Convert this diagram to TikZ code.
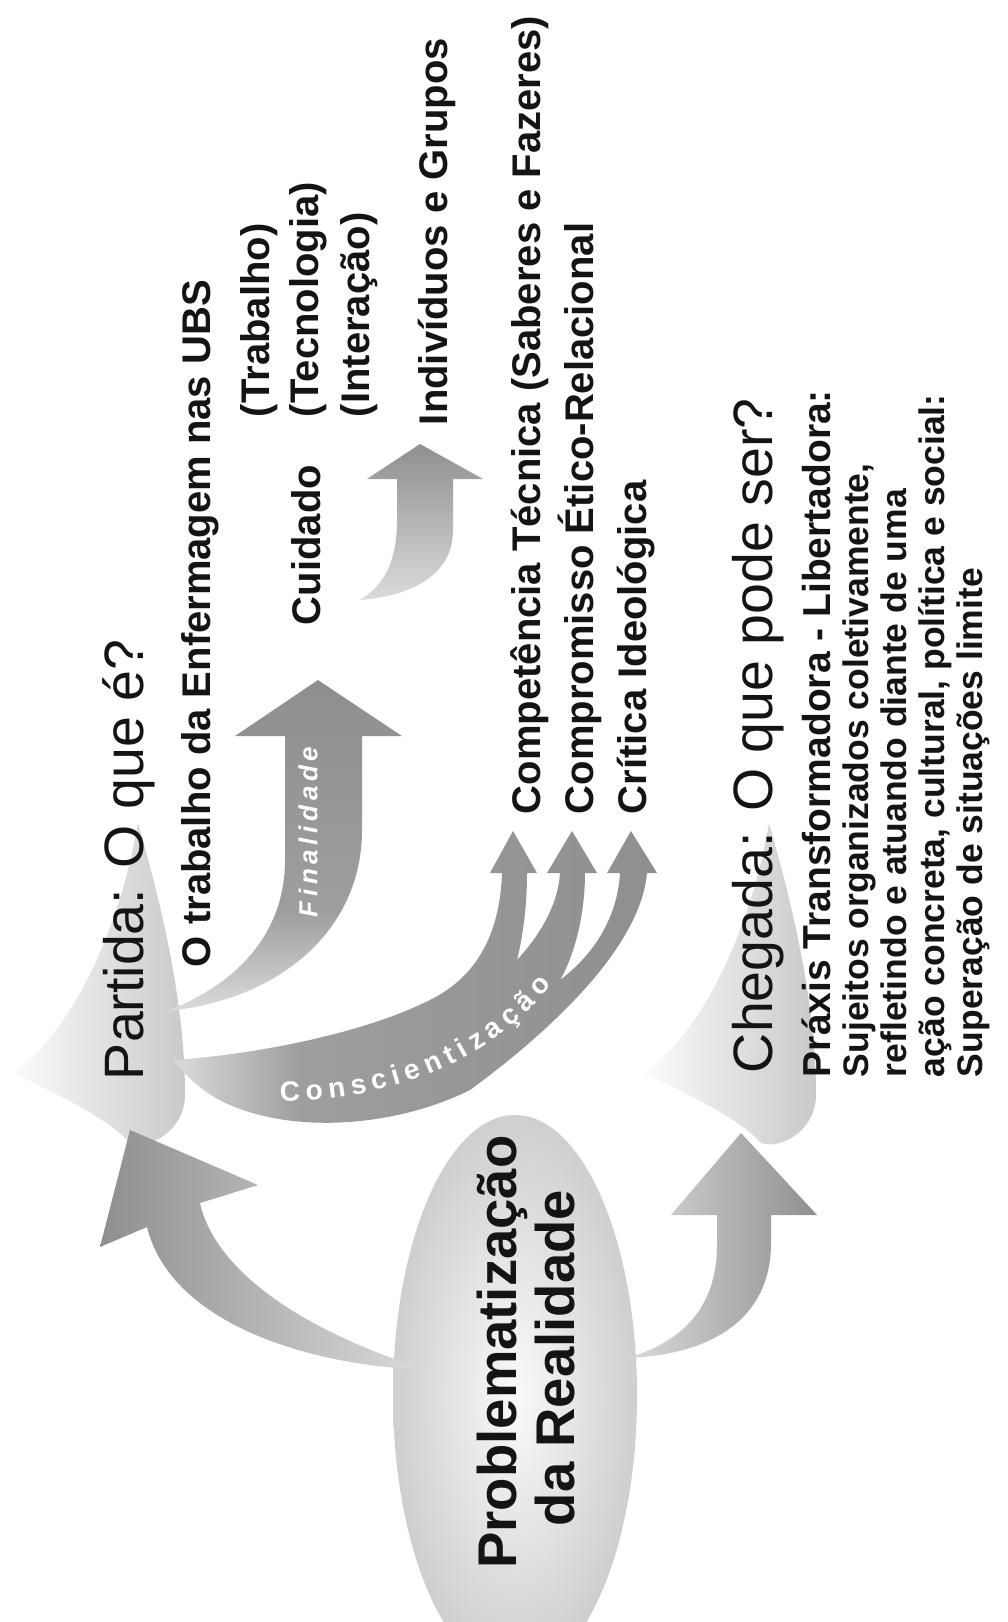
\documentclass[tikz,border=0pt]{standalone}
\usepackage{fontspec}
\setmainfont{Liberation Sans}
\newfontfamily\spacedfont[LetterSpace=18]{Liberation Sans}
\usetikzlibrary{decorations.text}
\definecolor{adark}{gray}{0.56}
\definecolor{amid}{gray}{0.62}
\definecolor{alight}{gray}{0.86}
\definecolor{txt}{gray}{0.08}
\pgfdeclarehorizontalshading{bandshade}{100bp}{color(0bp)=(alight); color(25bp)=(alight); color(38bp)=(amid); color(75bp)=(adark); color(100bp)=(adark)}
\pgfdeclareverticalshading{finshade}{100bp}{color(0bp)=(alight); color(25bp)=(alight); color(40bp)=(amid); color(75bp)=(adark); color(100bp)=(adark)}
\begin{document}
\begin{tikzpicture}[x=1pt,y=-1pt,
  vt/.style={rotate=90,inner sep=0pt,outer sep=0pt,text=txt},
  ttl/.style={vt,font=\fontsize{55.5}{60}\selectfont,anchor=base west},
  bld/.style={vt,font=\bfseries\fontsize{40}{44}\selectfont,anchor=base west},
  body/.style={vt,font=\bfseries\fontsize{35.5}{38}\selectfont,anchor=base west},
  elltext/.style={vt,font=\bfseries\fontsize{54.5}{58}\selectfont,anchor=base},
  lightshape/.style={left color=gray!3,right color=gray!42},
]
\fill[white] (0,0) rectangle (1008,1622);
\useasboundingbox (0,0) rectangle (1008,1622);

% light "star" shapes behind the two titles
\path[lightshape] (138,823) .. controls (120,930) and (70,1035) .. (13,1073)
  .. controls (60,1095) and (110,1120) .. (130,1143)
  .. controls (150,1150) and (185,1130) .. (185,1095)
  .. controls (185,1000) and (160,900) .. (138,823) -- cycle;
\begin{scope}[xshift=631pt]
\path[lightshape] (138,823) .. controls (120,930) and (70,1035) .. (13,1073)
  .. controls (60,1095) and (110,1120) .. (130,1143)
  .. controls (150,1150) and (185,1130) .. (185,1095)
  .. controls (185,1000) and (160,900) .. (138,823) -- cycle;
\end{scope}

% ellipse
\begin{scope}
\clip (0,0) rectangle (1008,1622);
\path[inner color=gray!4,outer color=gray!38] (515,1395) ellipse [x radius=122,y radius=280];
\end{scope}

% arrow: ellipse -> Partida
\path[left color=adark,right color=alight] (130,1130) -- (258,1185) -- (200,1203)
  .. controls (215,1270) and (300,1330) .. (427,1370)
  .. controls (300,1365) and (170,1320) .. (147,1227)
  -- (100,1247) -- cycle;

% arrow: ellipse -> Chegada
\path[left color=alight,right color=adark] (741,1133) -- (817,1215) -- (771,1215) -- (771,1245)
  .. controls (770,1320) and (710,1355) .. (627,1358)
  .. controls (690,1340) and (717,1300) .. (717,1245)
  -- (717,1215) -- (671,1215) -- cycle;

% Finalidade arrow
\path[shading=finshade] (318,680) -- (402,736) -- (362,736) -- (362,830)
  .. controls (362,930) and (280,1000) .. (167,1011)
  .. controls (235,985) and (285,935) .. (285,860)
  -- (285,736) -- (235,736) -- cycle;

% small arrow to Individuos e Grupos
\path[top color=adark,bottom color=alight] (420,444) -- (483,479) -- (453,479) -- (453,530)
  .. controls (453,570) and (420,595) .. (360,600)
  .. controls (385,585) and (397,560) .. (397,520)
  -- (397,479) -- (367,479) -- cycle;

% Conscientizacao band with three heads
\path[shading=bandshade]
  (173,1060) .. controls (250,1055) and (360,1035) .. (430,1000)
  .. controls (480,975) and (500,930) .. (502,873)
  -- (490,873) -- (513,831) -- (537,873) -- (527,873)
  .. controls (527,910) and (522,940) .. (517,960)
  .. controls (540,935) and (558,905) .. (560,873)
  -- (547,873) -- (572,831) -- (597,873) -- (585,873)
  .. controls (585,920) and (572,960) .. (560,980)
  .. controls (600,950) and (618,910) .. (620,873)
  -- (607,873) -- (631,831) -- (657,873) -- (647,873)
  .. controls (640,950) and (545,1035) .. (470,1090)
  .. controls (400,1125) and (300,1135) .. (230,1105)
  .. controls (205,1095) and (185,1075) .. (173,1060) -- cycle;

% labels on arrows
\node[vt,text=white,font=\spacedfont\bfseries\itshape\fontsize{26}{26}\selectfont] (fin) at (308,832) {Finalidade};
\path[decorate,decoration={text along path,
  text={|\bfseries\fontsize{28}{28}\selectfont\color{white}|Conscientização},
  text align={fit to path}}]
  (280,1101) .. controls (390,1100) and (485,1065) .. (552,985);

% texts
\node[ttl] (partida) at (143,1080) {Partida: O que é?};
\node[bld] (trab) at (210,967) {O trabalho da Enfermagem nas UBS};
\node[bld] (cuid) at (320,625) {Cuidado};
\node[bld] (ptrab) at (269,417) {(Trabalho)};
\node[bld] (ptec) at (318,417) {(Tecnologia)};
\node[bld] (pint) at (369,417) {(Interação)};
\node[bld] (indiv) at (447,425) {Indivíduos e Grupos};
\node[bld] (comp) at (540,814) {Competência Técnica (Saberes e Fazeres)};
\node[bld] (compr) at (593,814) {Compromisso Ético-Relacional};
\node[bld] (crit) at (646,814) {Crítica Ideológica};
\node[ttl] (cheg) at (772,1073) {Chegada: O que pode ser?};
\node[bld,font=\bfseries\fontsize{39}{42}\selectfont] (praxis) at (830,1077) {Práxis Transformadora - Libertadora:};
\node[body] (l1) at (868,1077) {Sujeitos organizados coletivamente,};
\node[body] (l2) at (906,1077) {refletindo e atuando diante de uma};
\node[body] (l3) at (944,1077) {ação concreta, cultural, política e social:};
\node[body] (l4) at (982,1077) {Superação de situações limite};
\node[elltext] (prob) at (516,1352) {Problematização};
\node[elltext] (real) at (574,1358) {da Realidade};
\end{tikzpicture}
\end{document}
